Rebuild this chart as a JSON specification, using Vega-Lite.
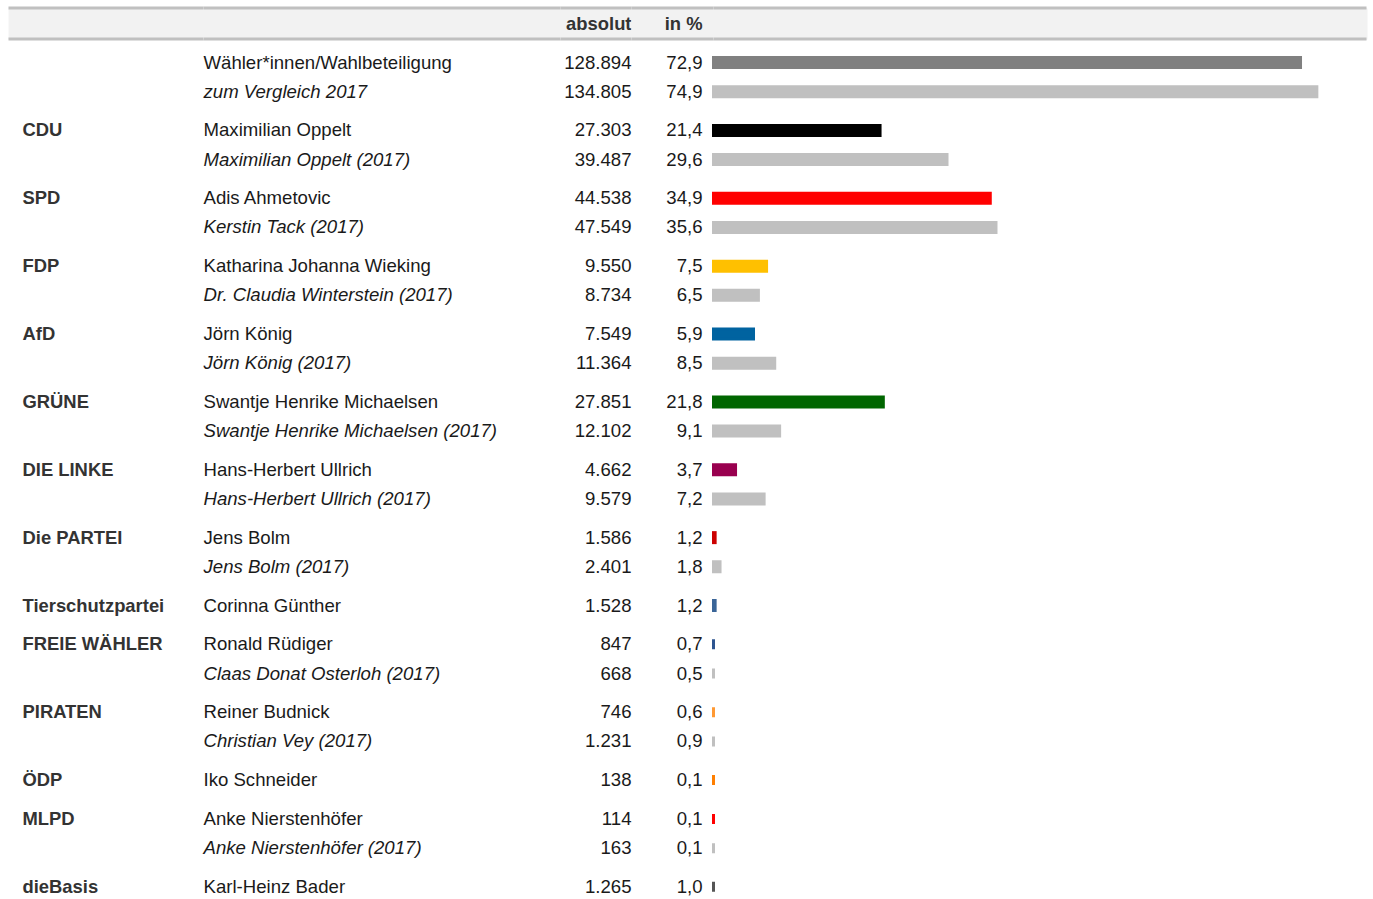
{
  "$schema": "https://vega.github.io/schema/vega-lite/v6.json",
  "background": "white",
  "padding": {"left": 6.5, "top": 6, "right": 0, "bottom": 0},
  "config": {
    "view": {"stroke": null},
    "locale": {"number": {"decimal": ",", "thousands": ".", "grouping": [3], "currency": ["", " €"]}},
    "text": {"font": "Liberation Sans", "fontSize": 18.6}
  },
  "datasets": {
    "rows": [
      {"g": "Wahl", "party": "", "yr": "2021", "cand": "Wähler*innen/Wahlbeteiligung", "abs": 128894, "pct": 72.9},
      {"g": "Wahl", "party": "", "yr": "2017", "cand": "zum Vergleich 2017", "abs": 134805, "pct": 74.9},
      {"g": "CDU", "party": "CDU", "yr": "2021", "cand": "Maximilian Oppelt", "abs": 27303, "pct": 21.4},
      {"g": "CDU", "party": "CDU", "yr": "2017", "cand": "Maximilian Oppelt (2017)", "abs": 39487, "pct": 29.6},
      {"g": "SPD", "party": "SPD", "yr": "2021", "cand": "Adis Ahmetovic", "abs": 44538, "pct": 34.9},
      {"g": "SPD", "party": "SPD", "yr": "2017", "cand": "Kerstin Tack (2017)", "abs": 47549, "pct": 35.6},
      {"g": "FDP", "party": "FDP", "yr": "2021", "cand": "Katharina Johanna Wieking", "abs": 9550, "pct": 7.5},
      {"g": "FDP", "party": "FDP", "yr": "2017", "cand": "Dr. Claudia Winterstein (2017)", "abs": 8734, "pct": 6.5},
      {"g": "AfD", "party": "AfD", "yr": "2021", "cand": "Jörn König", "abs": 7549, "pct": 5.9},
      {"g": "AfD", "party": "AfD", "yr": "2017", "cand": "Jörn König (2017)", "abs": 11364, "pct": 8.5},
      {"g": "GRÜNE", "party": "GRÜNE", "yr": "2021", "cand": "Swantje Henrike Michaelsen", "abs": 27851, "pct": 21.8},
      {"g": "GRÜNE", "party": "GRÜNE", "yr": "2017", "cand": "Swantje Henrike Michaelsen (2017)", "abs": 12102, "pct": 9.1},
      {"g": "DIE LINKE", "party": "DIE LINKE", "yr": "2021", "cand": "Hans-Herbert Ullrich", "abs": 4662, "pct": 3.7},
      {"g": "DIE LINKE", "party": "DIE LINKE", "yr": "2017", "cand": "Hans-Herbert Ullrich (2017)", "abs": 9579, "pct": 7.2},
      {"g": "Die PARTEI", "party": "Die PARTEI", "yr": "2021", "cand": "Jens Bolm", "abs": 1586, "pct": 1.2},
      {"g": "Die PARTEI", "party": "Die PARTEI", "yr": "2017", "cand": "Jens Bolm (2017)", "abs": 2401, "pct": 1.8},
      {"g": "Tierschutzpartei", "party": "Tierschutzpartei", "yr": "2021", "cand": "Corinna Günther", "abs": 1528, "pct": 1.2},
      {"g": "FREIE WÄHLER", "party": "FREIE WÄHLER", "yr": "2021", "cand": "Ronald Rüdiger", "abs": 847, "pct": 0.7},
      {"g": "FREIE WÄHLER", "party": "FREIE WÄHLER", "yr": "2017", "cand": "Claas Donat Osterloh (2017)", "abs": 668, "pct": 0.5},
      {"g": "PIRATEN", "party": "PIRATEN", "yr": "2021", "cand": "Reiner Budnick", "abs": 746, "pct": 0.6},
      {"g": "PIRATEN", "party": "PIRATEN", "yr": "2017", "cand": "Christian Vey (2017)", "abs": 1231, "pct": 0.9},
      {"g": "ÖDP", "party": "ÖDP", "yr": "2021", "cand": "Iko Schneider", "abs": 138, "pct": 0.1},
      {"g": "MLPD", "party": "MLPD", "yr": "2021", "cand": "Anke Nierstenhöfer", "abs": 114, "pct": 0.1},
      {"g": "MLPD", "party": "MLPD", "yr": "2017", "cand": "Anke Nierstenhöfer (2017)", "abs": 163, "pct": 0.1},
      {"g": "dieBasis", "party": "dieBasis", "yr": "2021", "cand": "Karl-Heinz Bader", "abs": 1265, "pct": 1.0}
    ]
  },
  "data": {"name": "rows"},
  "spacing": 8.4,
  "vconcat": [
    {
      "spacing": 0,
      "bounds": "flush",
      "hconcat": [
        {"width": 195, "height": 31, "view": {"fill": "#f2f2f2", "stroke": "#f2f2f2", "strokeWidth": 1}, "data": {"values": [{"label": ""}]},
         "layer": [
           {"mark": {"type": "rule", "color": "#c0c0c0", "strokeWidth": 3}, "encoding": {"y": {"value": 0}}},
           {"mark": {"type": "rule", "color": "#c0c0c0", "strokeWidth": 3}, "encoding": {"y": {"value": "height"}}}
         ]},
        {"width": 357, "height": 31, "view": {"fill": "#f2f2f2", "stroke": "#f2f2f2", "strokeWidth": 1}, "data": {"values": [{"label": ""}]},
         "layer": [
           {"mark": {"type": "rule", "color": "#c0c0c0", "strokeWidth": 3}, "encoding": {"y": {"value": 0}}},
           {"mark": {"type": "rule", "color": "#c0c0c0", "strokeWidth": 3}, "encoding": {"y": {"value": "height"}}}
         ]},
        {"width": 71, "height": 31, "view": {"fill": "#f2f2f2", "stroke": "#f2f2f2", "strokeWidth": 1}, "data": {"values": [{"label": "absolut"}]},
         "layer": [
           {"mark": {"type": "rule", "color": "#c0c0c0", "strokeWidth": 3}, "encoding": {"y": {"value": 0}}},
           {"mark": {"type": "rule", "color": "#c0c0c0", "strokeWidth": 3}, "encoding": {"y": {"value": "height"}}},
           {"mark": {"type": "text", "align": "right", "baseline": "middle", "fontWeight": "bold", "fontSize": 18.4, "color": "#333333"},
            "encoding": {"x": {"value": "width"}, "text": {"field": "label"}}}
         ]},
        {"width": 82, "height": 31, "view": {"fill": "#f2f2f2", "stroke": "#f2f2f2", "strokeWidth": 1}, "data": {"values": [{"label": "in %"}]},
         "layer": [
           {"mark": {"type": "rule", "color": "#c0c0c0", "strokeWidth": 3}, "encoding": {"y": {"value": 0}}},
           {"mark": {"type": "rule", "color": "#c0c0c0", "strokeWidth": 3}, "encoding": {"y": {"value": "height"}}},
           {"mark": {"type": "text", "align": "right", "baseline": "middle", "fontWeight": "bold", "fontSize": 18.4, "color": "#333333", "dx": -11},
            "encoding": {"x": {"value": "width"}, "text": {"field": "label"}}}
         ]},
        {"width": 653, "height": 31, "view": {"fill": "#f2f2f2", "stroke": "#f2f2f2", "strokeWidth": 1}, "data": {"values": [{"label": ""}]},
         "layer": [
           {"mark": {"type": "rule", "color": "#c0c0c0", "strokeWidth": 3}, "encoding": {"y": {"value": 0}}},
           {"mark": {"type": "rule", "color": "#c0c0c0", "strokeWidth": 3}, "encoding": {"y": {"value": "height"}}}
         ]}
      ]
    },
    {
      "spacing": 0,
      "hconcat": [
        {
          "facet": {"row": {"field": "g", "type": "nominal", "header": null,
            "sort": ["Wahl", "CDU", "SPD", "FDP", "AfD", "GRÜNE", "DIE LINKE", "Die PARTEI", "Tierschutzpartei", "FREIE WÄHLER", "PIRATEN", "ÖDP", "MLPD", "dieBasis"]}},
          "spacing": {"row": 11.87},
          "resolve": {"scale": {"y": "independent"}},
          "spec": {
            "width": 195, "height": {"step": 29.2},
            "mark": {"type": "text", "align": "left", "baseline": "middle", "fontWeight": "bold", "fontSize": 18.4, "color": "#333333", "dx": 14},
            "encoding": {
              "y": {"field": "yr", "type": "nominal", "axis": null, "sort": ["2021", "2017"], "scale": {"type": "point", "padding": 0.45}},
              "x": {"value": 0},
              "text": {"condition": {"test": "datum.yr == '2017'", "value": ""}, "field": "party"}
            }
          }
        },
        {
          "facet": {"row": {"field": "g", "type": "nominal", "header": null,
            "sort": ["Wahl", "CDU", "SPD", "FDP", "AfD", "GRÜNE", "DIE LINKE", "Die PARTEI", "Tierschutzpartei", "FREIE WÄHLER", "PIRATEN", "ÖDP", "MLPD", "dieBasis"]}},
          "spacing": {"row": 11.87},
          "resolve": {"scale": {"y": "independent"}},
          "spec": {
            "width": 357, "height": {"step": 29.2},
            "layer": [
              {
                "transform": [{"filter": "datum.yr == '2021'"}],
                "mark": {"type": "text", "align": "left", "baseline": "middle", "color": "#1a1a1a"},
                "encoding": {
                  "y": {"field": "yr", "type": "nominal", "axis": null, "sort": ["2021", "2017"], "scale": {"type": "point", "padding": 0.45}},
                  "x": {"value": 0},
                  "text": {"field": "cand"}
                }
              },
              {
                "transform": [{"filter": "datum.yr == '2017'"}],
                "mark": {"type": "text", "align": "left", "baseline": "middle", "color": "#1a1a1a", "fontStyle": "italic"},
                "encoding": {
                  "y": {"field": "yr", "type": "nominal", "axis": null, "sort": ["2021", "2017"], "scale": {"type": "point", "padding": 0.45}},
                  "x": {"value": 0},
                  "text": {"field": "cand"}
                }
              }
            ]
          }
        },
        {
          "facet": {"row": {"field": "g", "type": "nominal", "header": null,
            "sort": ["Wahl", "CDU", "SPD", "FDP", "AfD", "GRÜNE", "DIE LINKE", "Die PARTEI", "Tierschutzpartei", "FREIE WÄHLER", "PIRATEN", "ÖDP", "MLPD", "dieBasis"]}},
          "spacing": {"row": 11.87},
          "resolve": {"scale": {"y": "independent"}},
          "spec": {
            "width": 71, "height": {"step": 29.2},
            "mark": {"type": "text", "align": "right", "baseline": "middle", "color": "#1a1a1a"},
            "encoding": {
              "y": {"field": "yr", "type": "nominal", "axis": null, "sort": ["2021", "2017"], "scale": {"type": "point", "padding": 0.45}},
              "x": {"value": "width"},
              "text": {"field": "abs", "type": "quantitative", "format": ",.0f"}
            }
          }
        },
        {
          "facet": {"row": {"field": "g", "type": "nominal", "header": null,
            "sort": ["Wahl", "CDU", "SPD", "FDP", "AfD", "GRÜNE", "DIE LINKE", "Die PARTEI", "Tierschutzpartei", "FREIE WÄHLER", "PIRATEN", "ÖDP", "MLPD", "dieBasis"]}},
          "spacing": {"row": 11.87},
          "resolve": {"scale": {"y": "independent"}},
          "spec": {
            "width": 79.5, "height": {"step": 29.2},
            "mark": {"type": "text", "align": "right", "baseline": "middle", "color": "#1a1a1a", "dx": -8.5},
            "encoding": {
              "y": {"field": "yr", "type": "nominal", "axis": null, "sort": ["2021", "2017"], "scale": {"type": "point", "padding": 0.45}},
              "x": {"value": "width"},
              "text": {"field": "pct", "type": "quantitative", "format": ".1f"}
            }
          }
        },
        {
          "facet": {"row": {"field": "g", "type": "nominal", "header": null,
            "sort": ["Wahl", "CDU", "SPD", "FDP", "AfD", "GRÜNE", "DIE LINKE", "Die PARTEI", "Tierschutzpartei", "FREIE WÄHLER", "PIRATEN", "ÖDP", "MLPD", "dieBasis"]}},
          "spacing": {"row": 11.87},
          "resolve": {"scale": {"y": "independent"}},
          "spec": {
            "width": 652.5, "height": {"step": 29.2},
            "mark": {"type": "bar", "size": 10, "strokeWidth": 3},
            "encoding": {
              "y": {"field": "yr", "type": "nominal", "axis": null, "sort": ["2021", "2017"], "scale": {"paddingInner": 0.1, "paddingOuter": 0}},
              "x": {"field": "pct", "type": "quantitative", "axis": null, "scale": {"domain": [1, 80.92], "zero": false, "nice": false, "clamp": true}},
              "x2": {"datum": 1},
              "color": {
                "condition": {"test": "datum.yr == '2017'", "value": "#c0c0c0"},
                "field": "g", "type": "nominal", "legend": null,
                "scale": {
                  "domain": ["Wahl", "CDU", "SPD", "FDP", "AfD", "GRÜNE", "DIE LINKE", "Die PARTEI", "Tierschutzpartei", "FREIE WÄHLER", "PIRATEN", "ÖDP", "MLPD", "dieBasis"],
                  "range": ["#808080", "#000000", "#ff0000", "#ffc000", "#0063a0", "#006600", "#99004f", "#cc0000", "#3a6598", "#2e5590", "#ff9933", "#ff7f00", "#ff0000", "#555555"]
                }
              },
              "stroke": {
                "condition": {"test": "datum.yr == '2017'", "value": "#c0c0c0"},
                "field": "g", "type": "nominal", "legend": null,
                "scale": {
                  "domain": ["Wahl", "CDU", "SPD", "FDP", "AfD", "GRÜNE", "DIE LINKE", "Die PARTEI", "Tierschutzpartei", "FREIE WÄHLER", "PIRATEN", "ÖDP", "MLPD", "dieBasis"],
                  "range": ["#808080", "#000000", "#ff0000", "#ffc000", "#0063a0", "#006600", "#99004f", "#cc0000", "#3a6598", "#2e5590", "#ff9933", "#ff7f00", "#ff0000", "#555555"]
                }
              }
            }
          }
        }
      ]
    }
  ]
}
